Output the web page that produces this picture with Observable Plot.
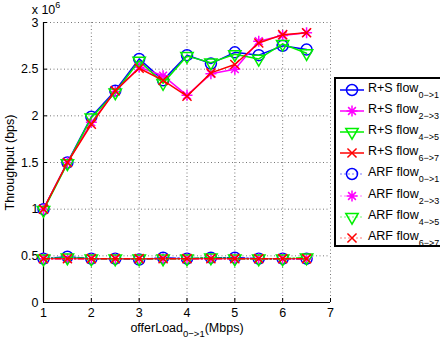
<!DOCTYPE html>
<html><head><meta charset="utf-8">
<script src="https://cdn.jsdelivr.net/npm/d3@7"></script>
<script src="https://cdn.jsdelivr.net/npm/@observablehq/plot@0.6"></script>
<style>
html,body{margin:0;padding:0;background:#fff;}
body{font-family:"Liberation Sans",Arial,Helvetica,sans-serif;}
#wrap{position:relative;width:440px;height:339px;overflow:hidden;}
#legend{position:absolute;left:334px;top:77px;width:130px;height:170px;border:2px solid #000;background:#fff;box-sizing:border-box;padding-top:0px;}
.row{display:flex;align-items:center;height:21.2px;padding-left:3px;font-size:12.5px;color:#000;white-space:nowrap;}
.row svg{flex:none;}
.row span{position:relative;top:-2px;margin-left:3px;}
.row sub{font-size:9px;vertical-align:-6px;line-height:0;}
</style>
</head><body>
<div id="wrap"><div id="chart"></div><div id="legend"></div></div>
<script>
// offered load (Mbps)
const offerLoad = [1, 1.5, 2, 2.5, 3, 3.5, 4, 4.5, 5, 5.5, 6, 6.5];
// throughput, x 10^6 bps
const rsFlow01 = [1.00, 1.50, 1.99, 2.27, 2.61, 2.38, 2.65, 2.56, 2.68, 2.65, 2.75, 2.71];
const rsFlow23 = [1.00, 1.50, 1.93, 2.26, 2.52, 2.43, 2.22, 2.45, 2.50, 2.80, 2.86, 2.89];
const rsFlow45 = [0.99, 1.49, 1.98, 2.25, 2.59, 2.35, 2.64, 2.57, 2.66, 2.61, 2.77, 2.67];
const rsFlow67 = [1.00, 1.50, 1.91, 2.27, 2.51, 2.38, 2.21, 2.46, 2.55, 2.78, 2.87, 2.89];
const arfFlow01 = [0.47, 0.49, 0.47, 0.47, 0.46, 0.48, 0.47, 0.48, 0.48, 0.47, 0.47, 0.47];
const arfFlow23 = [0.47, 0.47, 0.47, 0.47, 0.47, 0.47, 0.47, 0.47, 0.47, 0.47, 0.47, 0.47];
const arfFlow45 = [0.47, 0.48, 0.47, 0.47, 0.47, 0.47, 0.47, 0.48, 0.47, 0.47, 0.47, 0.48];
const arfFlow67 = [0.47, 0.47, 0.47, 0.47, 0.47, 0.47, 0.47, 0.47, 0.47, 0.47, 0.47, 0.47];
const xTicks = [1, 2, 3, 4, 5, 6, 7];
const yTicks = [0, 0.5, 1, 1.5, 2, 2.5, 3];
const legendNames = ["R+S flow", "R+S flow", "R+S flow", "R+S flow", "ARF flow", "ARF flow", "ARF flow", "ARF flow"];
const legendSubs = ["0−>1", "2−>3", "4−>5", "6−>7", "0−>1", "2−>3", "4−>5", "6−>7"];

const asterisk8 = {draw(ctx, size) {
  const r = Math.sqrt(size / Math.PI), d = r * Math.SQRT1_2;
  ctx.moveTo(-r, 0); ctx.lineTo(r, 0); ctx.moveTo(0, -r); ctx.lineTo(0, r);
  ctx.moveTo(-d, -d); ctx.lineTo(d, d); ctx.moveTo(-d, d); ctx.lineTo(d, -d);
}};
const styles = [
  {color: "#0000ff", symbol: "circle", r: 5.5, rotate: 0},
  {color: "#ff00ff", symbol: asterisk8, r: 5.5, rotate: 0},
  {color: "#00f000", symbol: "triangle", r: 4.6, rotate: 180},
  {color: "#ff0000", symbol: "times", r: 4.2, rotate: 0}
];
const seriesValues = [rsFlow01, rsFlow23, rsFlow45, rsFlow67, arfFlow01, arfFlow23, arfFlow45, arfFlow67];
const series = seriesValues.map((vals, k) => ({
  rows: offerLoad.map((x, i) => ({x, y: vals[i]})),
  ...styles[k % 4],
  dash: k < 4 ? null : "6,2,1.5,2"
}));

const marks = [
  Plot.gridX(xTicks, {stroke: "#777", strokeOpacity: 1, strokeDasharray: "1,2.5"}),
  Plot.gridY(yTicks, {stroke: "#777", strokeOpacity: 1, strokeDasharray: "1,2.5"}),
  Plot.ruleX([1], {stroke: "#000", strokeWidth: 1.2}),
  Plot.ruleY([0], {stroke: "#000", strokeWidth: 1.2}),
  Plot.axisX({ticks: xTicks, tickSize: -4, tickPadding: 10, fontSize: 12.5, tickFormat: d => String(d), label: "offerLoad(Mbps)", labelAnchor: "center", labelOffset: 29, labelArrow: false}),
  Plot.axisY({ticks: yTicks, tickSize: -4, tickPadding: 9, fontSize: 12.5, tickFormat: d => String(d), label: "Throughput (bps)", labelAnchor: "center", labelOffset: 38, labelArrow: false}),
];
for (const s of series) {
  marks.push(Plot.line(s.rows, {x: "x", y: "y", stroke: s.color, strokeWidth: 1.5, strokeDasharray: s.dash}));
  marks.push(Plot.dot(s.rows, {x: "x", y: "y", stroke: s.color, fill: "none", strokeWidth: 1.5, symbol: () => s.symbol, r: s.r, rotate: s.rotate}));
}

const chart = Plot.plot({
  width: 440, height: 339,
  marginLeft: 43, marginRight: 110, marginTop: 22, marginBottom: 37,
  style: {fontFamily: "Liberation Sans, Arial, sans-serif", fontSize: "12.5px", background: "#fff", color: "#000"},
  x: {domain: [1, 7]},
  y: {domain: [0, 3]},
  symbol: {type: "identity"},
  marks
});
document.getElementById("chart").appendChild(chart);

const svg = d3.select(chart);
// axis label with subscript
svg.selectAll("text").filter(function() { return this.textContent === "offerLoad(Mbps)"; }).each(function() {
  const t = d3.select(this); t.text("");
  t.append("tspan").text("offerLoad");
  t.append("tspan").attr("dy", "5").attr("font-size", "9.5px").text("0−>1");
  t.append("tspan").attr("dy", "-5").text("(Mbps)");
});
// exponent annotation
const exp = svg.append("text").attr("x", 46).attr("y", 14).attr("font-size", "12.5px").attr("fill", "#000");
exp.append("tspan").text("x 10");
exp.append("tspan").attr("dy", "-6").attr("font-size", "9px").text("6");

// legend
const legend = d3.select("#legend");
legendNames.forEach((name, k) => {
  const st = styles[k % 4];
  const row = legend.append("div").attr("class", "row");
  const g = row.append("svg").attr("width", 26).attr("height", 20);
  g.append("line").attr("x1", 1).attr("x2", 25).attr("y1", 10).attr("y2", 10)
    .attr("stroke", st.color).attr("stroke-width", 1.5).attr("stroke-opacity", k < 4 ? 1 : 0.35)
    .attr("stroke-dasharray", k < 4 ? null : "2,2");
  const sym = typeof st.symbol === "string"
    ? {circle: d3.symbolCircle, triangle: d3.symbolTriangle, times: d3.symbolTimes}[st.symbol]
    : st.symbol;
  g.append("path").attr("d", d3.symbol(sym, Math.PI * st.r * st.r)())
    .attr("transform", `translate(13,10) rotate(${st.rotate})`)
    .attr("fill", "none").attr("stroke", st.color).attr("stroke-width", 1.5);
  const sp = row.append("span");
  sp.append("tspan").text(name);
  sp.append("sub").text(legendSubs[k]);
});
</script>
</body></html>
